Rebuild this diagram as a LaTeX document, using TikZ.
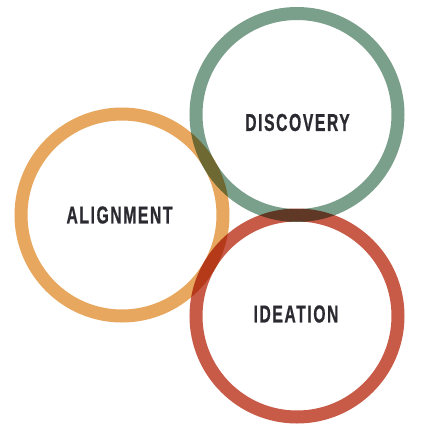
\documentclass[tikz,border=0pt]{standalone}
\usepackage{fontspec}
\newfontfamily\labfont{Liberation Sans}[FakeStretch=0.64,LetterSpace=6.5,FakeBold=0.6]
\definecolor{orangec}{HTML}{E8A75E}
\definecolor{greenc}{HTML}{7A9F8A}
\definecolor{redc}{HTML}{C85A48}
\definecolor{textc}{HTML}{2A2A30}
\tikzset{ring/.style={line width=13pt},
  lab/.style={font=\labfont\bfseries\fontsize{24.5}{25}\selectfont, text=textc, inner sep=0pt}}
\begin{document}
\begin{tikzpicture}[x=1pt,y=-1pt]
\useasboundingbox[fill=white] (0,0) rectangle (424,424);
\begin{scope}[blend group=multiply]
\draw[ring,orangec] (122,215) circle (101);
\draw[ring,greenc] (297,114.5) circle (101);
\draw[ring,redc] (297,316) circle (101);
\end{scope}
\node[lab] (disc) at (297.5,122.5) {DISCOVERY};
\node[lab] (alig) at (119.5,215) {ALIGNMENT};
\node[lab] (idea) at (296,314) {IDEATION};
\end{tikzpicture}
\end{document}
